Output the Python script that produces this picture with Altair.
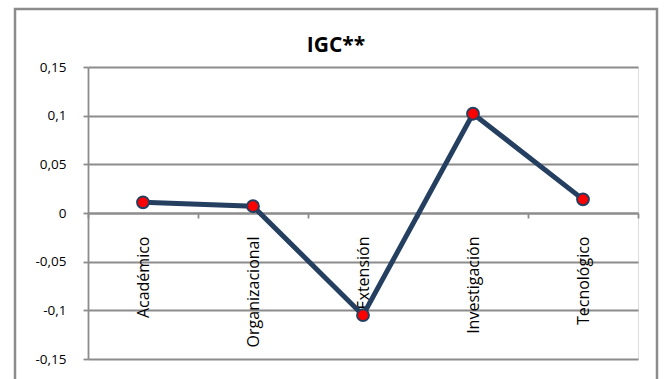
import altair as alt
import pandas as pd

categories = ["Académico", "Organizacional", "Extensión", "Investigación", "Tecnológico"]
values = [0.011, 0.007, -0.105, 0.102, 0.014]
y_ticks = [-0.15, -0.1, -0.05, 0, 0.05, 0.1, 0.15]
title_text = "IGC**"

df = pd.DataFrame({"cat": categories, "val": values})

W, H = 550, 292
GRAY = "#8c8c8c"
LINE = "#243F60"

x_enc = alt.X(
    "cat:N",
    sort=categories,
    bandPosition=0.5,
    scale=alt.Scale(type="band", paddingInner=0, paddingOuter=0),
    axis=alt.Axis(
        title=None,
        orient="bottom",
        offset=-146,
        labelAngle=270,
        labelAlign="right",
        labelBaseline="middle",
        labelPadding=18,
        labelFont="Open Sans",
        labelFontSize=16,
        labelColor="black",
        tickBand="extent",
        tickSize=5,
        tickColor=GRAY,
        tickWidth=1.8,
        domainColor=GRAY,
        domainWidth=1.8,
        grid=False,
        labelOverlap=False,
    ),
)
y_enc = alt.Y(
    "val:Q",
    scale=alt.Scale(domain=[-0.15, 0.15], nice=False, zero=False),
    axis=alt.Axis(
        title=None,
        values=y_ticks,
        labelExpr="replace(toString(round(datum.value*100)/100), '.', ',')",
        labelFont="Open Sans",
        labelFontSize=13.5,
        labelColor="black",
        labelPadding=17,
        tickSize=5,
        tickColor=GRAY,
        tickWidth=1.8,
        domainColor=GRAY,
        domainWidth=1.8,
        grid=True,
        gridColor=GRAY,
        gridWidth=1.8,
    ),
)

border = alt.Chart(pd.DataFrame({"a": [0]})).mark_rect(
    fill=None, stroke=GRAY, strokeWidth=2.5
).encode(
    x=alt.value(-73), x2=alt.value(569), y=alt.value(-58), y2=alt.value(360)
)

line = alt.Chart(df).mark_line(color=LINE, strokeWidth=5).encode(x=x_enc, y=y_enc)
points = alt.Chart(df).mark_point(
    filled=True, fill="#FF0000", stroke=LINE, strokeWidth=2, size=140, opacity=1
).encode(x=x_enc, y=y_enc)

title = alt.Chart(pd.DataFrame({"t": [title_text]})).mark_text(
    font="Open Sans", fontWeight="bold", fontSize=21, color="black",
    align="center", baseline="alphabetic"
).encode(text="t:N", x=alt.value(248), y=alt.value(-15))

chart = alt.layer(border, line, points, title).properties(
    width=W, height=H,
    autosize=alt.AutoSizeParams(type="none"),
    padding={"left": 88, "top": 67, "right": 26, "bottom": 20},
).configure_view(stroke=None).configure(background="white")

chart.save("out.html", embed_options={"renderer": "svg", "actions": False})
